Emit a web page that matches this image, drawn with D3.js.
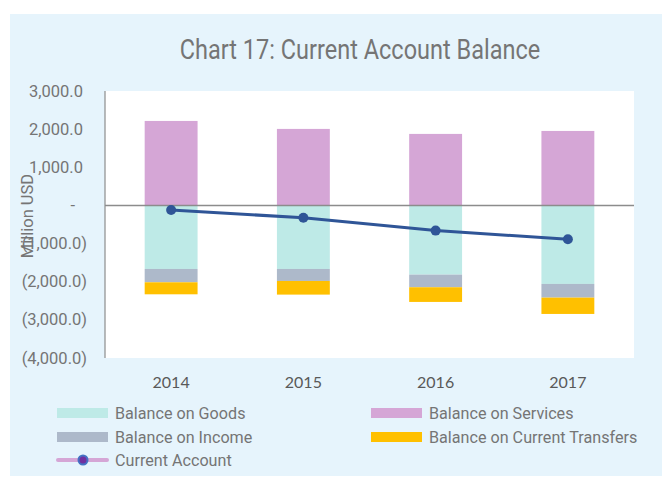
<!DOCTYPE html>
<html>
<head>
<meta charset="utf-8">
<script src="https://cdn.jsdelivr.net/npm/d3@7"></script>
<style>
  body { margin: 0; background: #fff; }
  svg { display: block; }
</style>
</head>
<body>
<svg width="662" height="477"></svg>
<script>
// data (million USD)
var years = ["2014", "2015", "2016", "2017"];
var goods = [-1665, -1665, -1814, -2058];
var services = [2215, 2006, 1875, 1953];
var income = [-350, -315, -331, -359];
var transfers = [-315, -358, -385, -428];
var currentAccount = [-118, -325, -660, -886];
var yTicks = [3000, 2000, 1000, 0, -1000, -2000, -3000, -4000];

var colors = {
  goods: "#BEEAE7",
  services: "#D5A6D6",
  income: "#ADB9CA",
  transfers: "#FFC000",
  line: "#2F5597"
};

var svg = d3.select("svg");

// squeeze text horizontally around its anchor
function squeeze(x0, k) {
  return "translate(" + x0 + ",0) scale(" + k + ",1) translate(" + (-x0) + ",0)";
}

// panel background
svg.append("rect")
  .attr("x", 10).attr("y", 14)
  .attr("width", 662 - 10).attr("height", 462)
  .attr("fill", "#E6F4FC");

var plot = {left: 105, right: 634, top: 91, bottom: 358};

svg.append("rect")
  .attr("x", plot.left).attr("y", plot.top)
  .attr("width", plot.right - plot.left).attr("height", plot.bottom - plot.top)
  .attr("fill", "#fff");

var x = d3.scaleBand().domain(years).range([plot.left, plot.right]).paddingInner(0.6).paddingOuter(0.3);
var xc = function(d) { return x(d) + x.bandwidth() / 2; };
var y = d3.scaleLinear().domain([-4000, 3000]).range([plot.bottom, plot.top]);

// title
svg.append("text")
  .attr("x", 360).attr("y", 59)
  .attr("text-anchor", "middle")
  .attr("transform", squeeze(360, 0.84))
  .style("font-family", "Roboto")
  .style("font-size", "28px")
  .style("fill", "#757575")
  .text("Chart 17: Current Account Balance");

// y tick labels (accounting format)
function fmt(v) {
  if (v === 0) return "-";
  var s = d3.format(",.1f")(Math.abs(v));
  return v < 0 ? "(" + s + ")" : s;
}
svg.append("g").selectAll("text")
  .data(yTicks)
  .enter().append("text")
  .attr("x", function(d) { return d === 0 ? 75 : (d < 0 ? 87 : 83); })
  .attr("y", function(d) { return y(d) + 5.5; })
  .attr("text-anchor", "end")
  .style("font-family", "Roboto")
  .style("font-size", "16.5px")
  .style("fill", "#757575")
  .text(fmt);

// y axis title
svg.append("text")
  .attr("transform", "translate(33,216) rotate(-90)")
  .attr("text-anchor", "middle")
  .style("font-family", "Roboto")
  .style("font-size", "16.5px")
  .style("fill", "#757575")
  .text("Million USD");

// stacked bars: positives stack up, negatives stack down
var series = [
  {key: "goods", values: goods},
  {key: "income", values: income},
  {key: "transfers", values: transfers},
  {key: "services", values: services}
];
var bars = svg.append("g");
years.forEach(function(yr, i) {
  var pos = 0, neg = 0;
  series.forEach(function(s) {
    var v = s.values[i], y0, y1;
    if (v >= 0) { y0 = pos; y1 = pos + v; pos = y1; }
    else { y0 = neg; y1 = neg + v; neg = y1; }
    bars.append("rect")
      .attr("x", x(yr))
      .attr("width", x.bandwidth())
      .attr("y", y(Math.max(y0, y1)))
      .attr("height", Math.abs(y(y0) - y(y1)))
      .attr("fill", colors[s.key]);
  });
});

// axis lines
svg.append("line")
  .attr("x1", plot.left).attr("x2", plot.left)
  .attr("y1", plot.top).attr("y2", plot.bottom)
  .attr("stroke", "#8c8c8c").attr("stroke-width", 1.2);
svg.append("line")
  .attr("x1", plot.left).attr("x2", plot.right)
  .attr("y1", y(0)).attr("y2", y(0))
  .attr("stroke", "#8c8c8c").attr("stroke-width", 1.5);

// current account line
var line = d3.line()
  .x(function(d, i) { return xc(years[i]); })
  .y(function(d) { return y(d); });
svg.append("path")
  .datum(currentAccount)
  .attr("d", line)
  .attr("fill", "none")
  .attr("stroke", colors.line)
  .attr("stroke-width", 3);
svg.append("g").selectAll("circle")
  .data(currentAccount)
  .enter().append("circle")
  .attr("cx", function(d, i) { return xc(years[i]); })
  .attr("cy", function(d) { return y(d); })
  .attr("r", 5)
  .attr("fill", colors.line);

// x labels
svg.append("g").selectAll("text")
  .data(years)
  .enter().append("text")
  .attr("x", xc)
  .attr("y", 388)
  .attr("text-anchor", "middle")
  .style("font-family", "Lato")
  .style("font-size", "16px")
  .style("fill", "#595959")
  .text(function(d) { return d; });

// legend
var legendItems = [
  {label: "Balance on Goods", color: colors.goods, x: 57, y: 413},
  {label: "Balance on Services", color: colors.services, x: 371, y: 413},
  {label: "Balance on Income", color: colors.income, x: 57, y: 437},
  {label: "Balance on Current Transfers", color: colors.transfers, x: 371, y: 437}
];
var lg = svg.append("g");
legendItems.forEach(function(it) {
  lg.append("rect")
    .attr("x", it.x).attr("y", it.y - 5)
    .attr("width", 51).attr("height", 10)
    .attr("fill", it.color);
  lg.append("text")
    .attr("x", it.x + 58).attr("y", it.y + 6)
    .attr("transform", squeeze(it.x + 58, 0.95))
    .style("font-family", "Roboto")
    .style("font-size", "17px")
    .style("fill", "#757575")
    .text(it.label);
});
lg.append("line")
  .attr("x1", 58).attr("x2", 107)
  .attr("y1", 460).attr("y2", 460)
  .attr("stroke", colors.services).attr("stroke-width", 4).attr("stroke-linecap", "round");
lg.append("circle")
  .attr("cx", 83).attr("cy", 460).attr("r", 4.5)
  .attr("fill", "#7030A0").attr("stroke", "#4472C4").attr("stroke-width", 2);
lg.append("text")
  .attr("x", 115).attr("y", 466)
  .attr("transform", squeeze(115, 0.95))
  .style("font-family", "Roboto")
  .style("font-size", "17px")
  .style("fill", "#757575")
  .text("Current Account");
</script>
</body>
</html>
